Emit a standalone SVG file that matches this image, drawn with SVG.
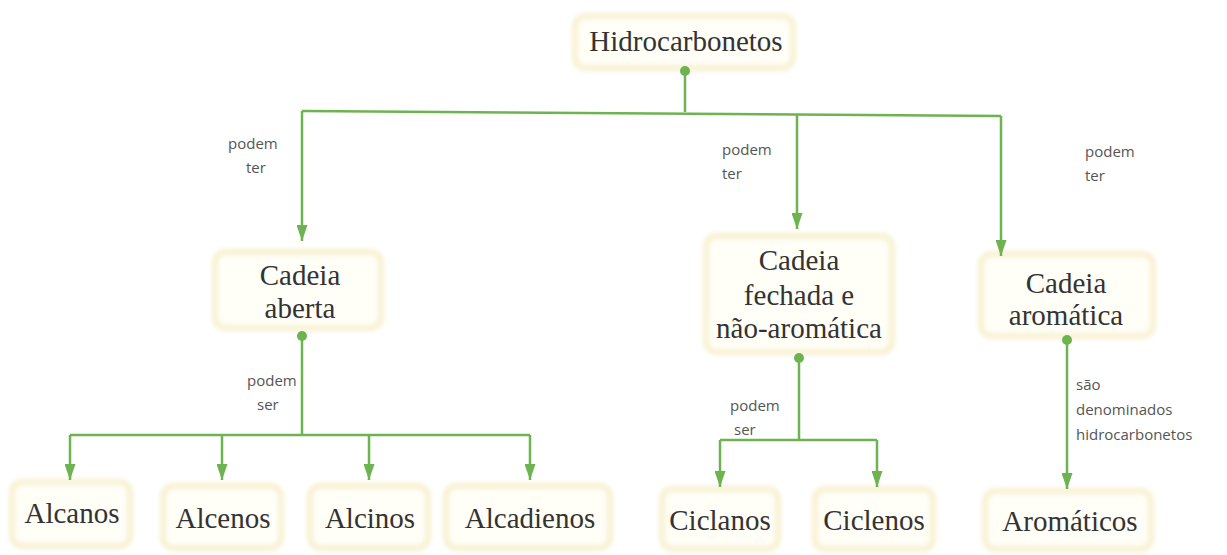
<svg xmlns="http://www.w3.org/2000/svg" width="1227" height="555" viewBox="0 0 1227 555">
<style>
.box{fill:#fffef7;stroke:#f6eec8;stroke-width:5;filter:url(#soft)}
.t{font-family:"Liberation Serif",serif;font-size:29px;fill:#333;text-anchor:middle}
.l{font-family:"Open Sans","DejaVu Sans",sans-serif;font-size:15px;fill:#555}
.c{fill:none;stroke:#6db350;stroke-width:2.5}
.d{fill:#6db350}
</style>
<defs>
<filter id="soft" x="-10%" y="-10%" width="120%" height="120%"><feGaussianBlur stdDeviation="2.5"/></filter>
<marker id="ah" viewBox="0 0 16 11" refX="16" refY="5.5" markerWidth="16" markerHeight="11" orient="auto" markerUnits="userSpaceOnUse"><path d="M0,0 L16,5.5 L0,11 z" fill="#6db350"/></marker>
</defs>
<g id="n-hidro"><rect class="box" x="575" y="16" width="218" height="52" rx="10"/><text class="t" x="686" y="51">Hidrocarbonetos</text></g>
<g id="n-aberta"><rect class="box" x="215" y="252" width="166" height="76" rx="10"/><text class="t" x="300" y="285">Cadeia</text><text class="t" x="300" y="318">aberta</text></g>
<g id="n-fechada"><rect class="box" x="706" y="236" width="186" height="116" rx="10"/><text class="t" x="799" y="270">Cadeia</text><text class="t" x="799" y="305">fechada e</text><text class="t" x="799" y="338">não-aromática</text></g>
<g id="n-aromatica"><rect class="box" x="981" y="254" width="172" height="82" rx="10"/><text class="t" x="1066" y="293">Cadeia</text><text class="t" x="1066" y="325">aromática</text></g>
<g id="n-alcanos"><rect class="box" x="12" y="482" width="118" height="64" rx="10"/><text class="t" x="72" y="523">Alcanos</text></g>
<g id="n-alcenos"><rect class="box" x="163" y="486" width="118" height="62" rx="10"/><text class="t" x="223" y="528">Alcenos</text></g>
<g id="n-alcinos"><rect class="box" x="310" y="486" width="118" height="62" rx="10"/><text class="t" x="370" y="528">Alcinos</text></g>
<g id="n-alcadienos"><rect class="box" x="446" y="486" width="164" height="62" rx="10"/><text class="t" x="530" y="528">Alcadienos</text></g>
<g id="n-ciclanos"><rect class="box" x="662" y="489" width="116" height="60" rx="10"/><text class="t" x="720" y="530">Ciclanos</text></g>
<g id="n-ciclenos"><rect class="box" x="815" y="489" width="118" height="60" rx="10"/><text class="t" x="874" y="530">Ciclenos</text></g>
<g id="n-aromaticos"><rect class="box" x="985" y="491" width="166" height="58" rx="10"/><text class="t" x="1070" y="531">Aromáticos</text></g>
<g id="connectors">
<path class="c" d="M685,71 V112"/>
<path class="c" d="M302,111 L1001,116"/>
<path class="c" d="M302,111 V241" marker-end="url(#ah)"/>
<path class="c" d="M797,115 V229" marker-end="url(#ah)"/>
<path class="c" d="M1001,116 V256" marker-end="url(#ah)"/>
<path class="c" d="M302,336 V435"/>
<path class="c" d="M70,435 H530"/>
<path class="c" d="M70,435 V480" marker-end="url(#ah)"/>
<path class="c" d="M222,435 V480" marker-end="url(#ah)"/>
<path class="c" d="M369,435 V480" marker-end="url(#ah)"/>
<path class="c" d="M530,435 V480" marker-end="url(#ah)"/>
<path class="c" d="M799,358 V440"/>
<path class="c" d="M720,440 H877"/>
<path class="c" d="M720,440 V487" marker-end="url(#ah)"/>
<path class="c" d="M877,440 V487" marker-end="url(#ah)"/>
<path class="c" d="M1067,340 V489" marker-end="url(#ah)"/>
<circle class="d" cx="685" cy="71" r="5"/>
<circle class="d" cx="302" cy="336" r="5"/>
<circle class="d" cx="799" cy="358" r="5"/>
<circle class="d" cx="1067" cy="340" r="5"/>
<text class="l" x="228" y="149">podem</text>
<text class="l" x="246" y="173">ter</text>
<text class="l" x="722" y="155">podem</text>
<text class="l" x="722" y="179">ter</text>
<text class="l" x="1085" y="157">podem</text>
<text class="l" x="1085" y="181">ter</text>
<text class="l" x="247" y="386">podem</text>
<text class="l" x="257" y="410">ser</text>
<text class="l" x="730" y="411">podem</text>
<text class="l" x="734" y="435">ser</text>
<text class="l" x="1076" y="390">são</text>
<text class="l" x="1076" y="415">denominados</text>
<text class="l" x="1076" y="440">hidrocarbonetos</text>
</g>
</svg>
